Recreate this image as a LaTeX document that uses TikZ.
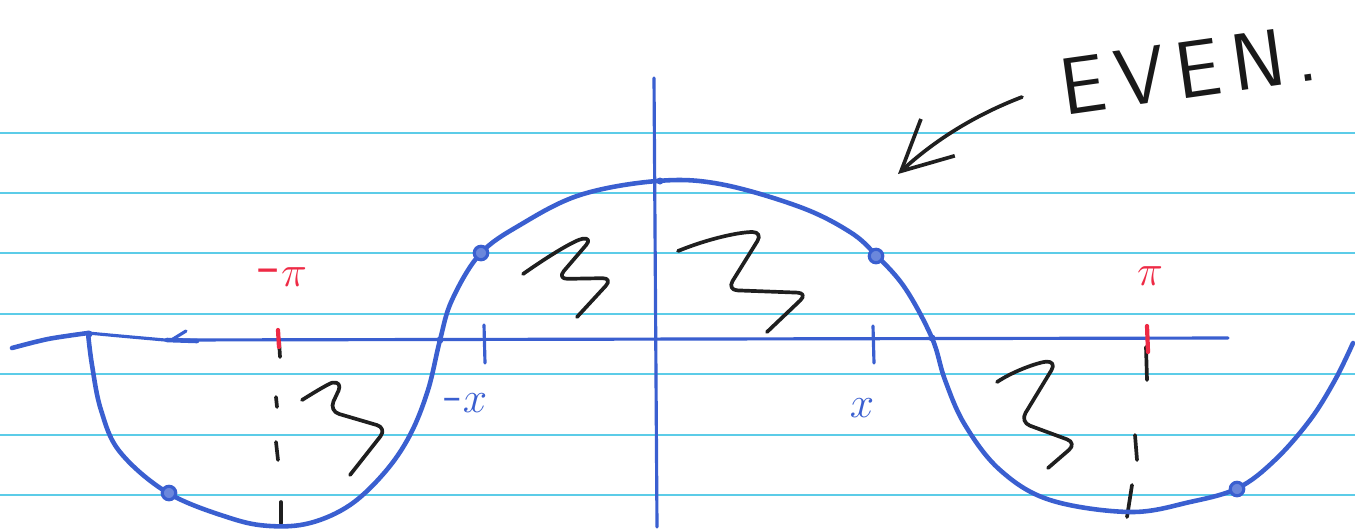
\documentclass[tikz,border=0pt]{standalone}
\usepackage{fontspec}
\usepackage{tikz}
\usetikzlibrary{arrows.meta,positioning}
\definecolor{penblue}{HTML}{3A5FD0}
\definecolor{penred}{HTML}{EE2A45}
\definecolor{paperrule}{HTML}{5CCCE8}

\begin{document}
\begin{tikzpicture}[
  x=0.02cm, y=-0.02cm,
  pen/.style={penblue, line width=2.6pt, line cap=round, line join=round},
  axisline/.style={penblue, line width=1.8pt, line cap=round},
  marker/.style={black!88, line width=2.1pt, line cap=round, line join=round},
  paperline/.style={paperrule, line width=1pt},
  ring/.style={circle, draw=penblue, fill=penblue!75, line width=1.8pt,
    inner sep=0pt, minimum size=2.7mm},
  knot/.style={circle, fill=penblue, inner sep=0pt, minimum size=1.4mm},
  lbl/.style={penblue, font=\fontsize{34}{34}\selectfont},
  pilbl/.style={penred, font=\fontsize{42}{42}\selectfont},
  evenlbl/.style={black!90, font=\sffamily\fontsize{46}{46}\selectfont,
    rotate=8},
  arr/.style={marker, -{Straight Barb[length=10mm, width=10mm]}},
]
\fill[white] (0,0) rectangle (1355,529);
\useasboundingbox (0,0) rectangle (1355,529);

\foreach \y in {133,193,253,314,374,435,495}
  \draw[paperline] (0,\y) -- (1355,\y);

\draw[axisline] (88,333) .. controls (120,336) .. (165,340) -- (1228,338);
\draw[axisline, line width=2.6pt] (167,340) -- (197,341);
\draw[axisline] (173,339) -- (186,331);
\draw[axisline] (654,78) -- (657,527);

\draw[axisline] (484,325) -- (485,363);
\draw[axisline] (873,326) -- (874,363);

\draw[marker] (279,340) -- (280,357);
\draw[marker] (1146,347) -- (1147,380);
\draw[penred, line width=2.4pt, line cap=round] (278,330) -- (279,347);
\draw[penred, line width=2.4pt, line cap=round] (1147,326) -- (1148,352);

\draw[marker] (276,397) -- (277,407);
\draw[marker] (276,442) -- (278,460);
\draw[marker] (281,502) -- (281,523);
\draw[marker] (1135,435) -- (1137,460);
\draw[marker] (1132,485) -- (1127,517);

\draw[pen] plot[smooth] coordinates {(12,348) (48,339) (88,333)};
\draw[pen] plot[smooth, tension=0.6] coordinates {
  (88,333) (92,365) (101,410) (120,452) (168,493) (230,518) (270,526)
  (310,523) (350,505) (385,472) (410,435) (428,390) (440,340) (452,300)
  (480,254) (520,225) (580,195) (657,181) (720,184) (800,207) (850,232)
  (876,255) (905,288) (932,338) (945,380) (965,425) (1000,470)
  (1050,500) (1130,512) (1190,502) (1238,488) (1275,460) (1310,420)
  (1335,380) (1353,343)};

\node[ring] (dotA) at (481,253) {};
\node[ring] (dotB) at (876,256) {};
\node[ring] (dotC) at (169,493) {};
\node[ring] (dotD) at (1237,489) {};
\node[knot] (kA) at (89,334) {};
\node[knot] (kB) at (440,340) {};
\node[knot] (kC) at (932,338) {};
\node[knot] (kD) at (660,181) {};

\draw[marker, rounded corners=6pt]
  (523,274) .. controls (550,255) and (575,240) .. (593,237)
  -- (557,279) -- (613,278) -- (577,317);
\draw[marker, rounded corners=6pt]
  (678,251) .. controls (710,238) and (740,232) .. (763,232)
  -- (727,290) -- (808,293) -- (767,332);
\draw[marker, rounded corners=6pt]
  (302,400) .. controls (318,390) and (330,383) .. (343,381)
  -- (329,411) -- (387,428) -- (350,475);
\draw[marker, rounded corners=6pt]
  (997,382) .. controls (1015,370) and (1040,362) .. (1057,361)
  -- (1020,422) -- (1077,443) -- (1048,468);

\node[pilbl] (mpi) at (283,277) {-$\pi$};
\node[pilbl] (pi) at (1150,276) {$\pi$};
\node[lbl] (mx) at (466,403) {-$x$};
\node[lbl] (xx) at (862,408) {$x$};

\node[evenlbl] (even) at (1188,70) {E\kern6pt V\kern6pt E\kern6pt N\kern6pt.};
\coordinate (tail) at (1022,97);
\coordinate (tip) at (898,174);
\draw[arr] (tail) .. controls (975,115) and (935,140) .. (tip);
\end{tikzpicture}
\end{document}
